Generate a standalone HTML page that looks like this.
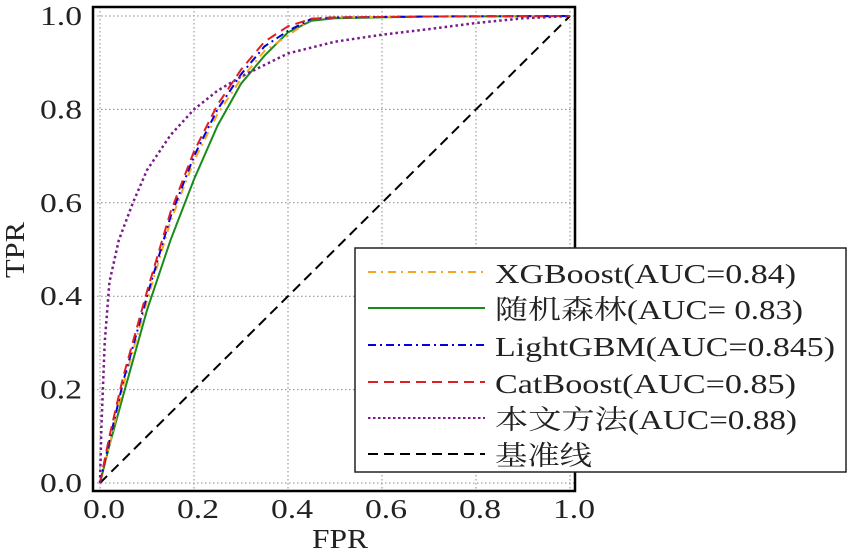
<!DOCTYPE html>
<html><head><meta charset="utf-8"><style>
html,body{margin:0;padding:0;background:#fff;}
svg{display:block;font-family:"Liberation Serif","Noto Serif CJK SC",serif;}
</style></head><body>
<svg id="s" width="850" height="550" xmlns="http://www.w3.org/2000/svg">
<rect width="850" height="550" fill="#fff"/>
<g id="grid" stroke="#888" stroke-width="1" stroke-dasharray="1.5,2.5"></g>
<g id="curves" fill="none"></g>
<rect x="93" y="7" width="482" height="484" fill="none" stroke="#000" stroke-width="2.5"/>
<g id="ticks" font-size="27" fill="#222"></g>
<text x="340" y="548" font-size="27" text-anchor="middle" fill="#222" textLength="56" lengthAdjust="spacingAndGlyphs">FPR</text>
<text transform="translate(24,250) rotate(-90)" font-size="27" text-anchor="middle" fill="#222" textLength="56" lengthAdjust="spacingAndGlyphs">TPR</text>
<rect x="355" y="248" width="491" height="224" fill="#fff" stroke="#222" stroke-width="1.5"/>
<g font-size="27" fill="#222">
<line x1="368" y1="272" x2="485" y2="272" stroke="#f5a623" stroke-width="2" stroke-dasharray="8,5,2,5"/>
<text x="495" y="283" textLength="301" lengthAdjust="spacingAndGlyphs">XGBoost(AUC=0.84)</text>
<line x1="368" y1="308" x2="485" y2="308" stroke="#1a8a1a" stroke-width="2"/>
<text x="495" y="319" textLength="308" lengthAdjust="spacingAndGlyphs">随机森林(AUC= 0.83)</text>
<line x1="368" y1="345" x2="485" y2="345" stroke="#0000e0" stroke-width="2" stroke-dasharray="8,4,2,4"/>
<text x="495" y="356" textLength="340" lengthAdjust="spacingAndGlyphs">LightGBM(AUC=0.845)</text>
<line x1="368" y1="382" x2="485" y2="382" stroke="#e02020" stroke-width="2" stroke-dasharray="10,6"/>
<text x="495" y="393" textLength="301" lengthAdjust="spacingAndGlyphs">CatBoost(AUC=0.85)</text>
<line x1="368" y1="418" x2="485" y2="418" stroke="#7a1a8a" stroke-width="2" stroke-dasharray="2.5,2.5"/>
<text x="495" y="429" textLength="302" lengthAdjust="spacingAndGlyphs">本文方法(AUC=0.88)</text>
<line x1="368" y1="454" x2="485" y2="454" stroke="#000" stroke-width="2" stroke-dasharray="10,6"/>
<text x="495" y="465" textLength="97" lengthAdjust="spacingAndGlyphs">基准线</text>
</g>
</svg>
<script>
var NS="http://www.w3.org/2000/svg";
function X(f){return 100+470*f;}function Y(t){return 483-467*t;}
function el(p,n,a){var e=document.createElementNS(NS,n);for(var k in a)e.setAttribute(k,a[k]);p.appendChild(e);return e;}
var g=document.getElementById('grid'),tk=document.getElementById('ticks');
for(var i=0;i<=5;i++){var v=i*0.2;
el(g,'line',{x1:X(v),y1:7,x2:X(v),y2:491});
el(g,'line',{x1:93,y1:Y(v),x2:575,y2:Y(v)});
var t=el(tk,'text',{x:X(v)+4,y:518,'text-anchor':'middle',textLength:42,lengthAdjust:'spacingAndGlyphs'});t.textContent=v.toFixed(1);
t=el(tk,'text',{x:82,y:Y(v)+9,'text-anchor':'end',textLength:42,lengthAdjust:'spacingAndGlyphs'});t.textContent=v.toFixed(1);}
function path(pts){return pts.map(function(p,i){return (i?'L':'M')+X(p[0]).toFixed(1)+','+Y(p[1]).toFixed(1);}).join(' ');}
var cat=[[0,0],[0.02,0.1],[0.05,0.23],[0.1,0.41],[0.15,0.58],[0.2,0.71],[0.25,0.81],[0.3,0.885],[0.35,0.945],[0.4,0.978],[0.45,0.994],[0.5,0.997],[0.7,0.999],[1,1]];
var lgb=cat.map(function(p){return [p[0],Math.max(0,p[1]-0.01*(p[1]<0.99))];});
var xgb=cat.map(function(p){return [p[0],Math.max(0,p[1]-0.02*(p[1]<0.99&&p[0]>0))];});
var rf=[[0,0],[0.02,0.08],[0.05,0.19],[0.1,0.37],[0.15,0.52],[0.2,0.65],[0.25,0.765],[0.3,0.855],[0.35,0.915],[0.4,0.965],[0.45,0.99],[0.5,0.995],[0.7,0.999],[1,1]];
var pur=[[0,0],[0.003,0.12],[0.01,0.3],[0.02,0.43],[0.04,0.52],[0.07,0.6],[0.1,0.67],[0.15,0.745],[0.2,0.8],[0.25,0.84],[0.3,0.87],[0.35,0.895],[0.4,0.92],[0.5,0.945],[0.6,0.96],[0.7,0.972],[0.8,0.985],[0.9,0.995],[1,1]];
var c=document.getElementById('curves');
el(c,'path',{d:path([[0,0],[1,1]]),stroke:'#000','stroke-width':2,'stroke-dasharray':'10,6'});
el(c,'path',{d:path(rf),stroke:'#1a8a1a','stroke-width':2});
el(c,'path',{d:path(xgb),stroke:'#f5a623','stroke-width':2,'stroke-dasharray':'8,5,2,5'});
el(c,'path',{d:path(lgb),stroke:'#0000e0','stroke-width':2,'stroke-dasharray':'8,4,2,4'});
el(c,'path',{d:path(cat),stroke:'#e02020','stroke-width':2,'stroke-dasharray':'10,6'});
el(c,'path',{d:path(pur),stroke:'#7a1a8a','stroke-width':2.5,'stroke-dasharray':'2.5,3'});
</script>
</body></html>
